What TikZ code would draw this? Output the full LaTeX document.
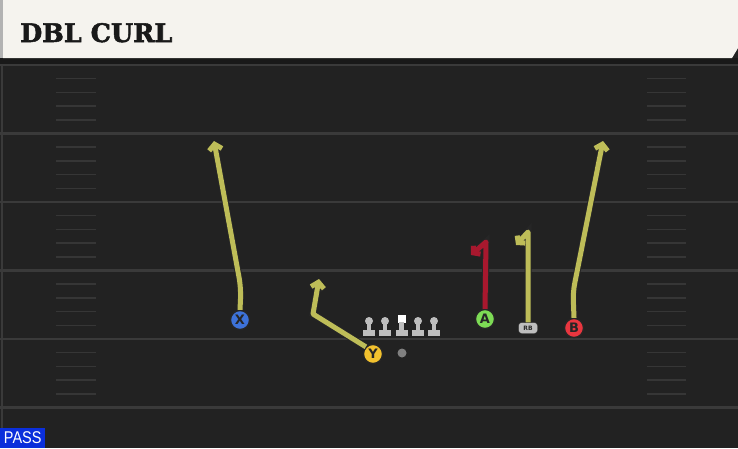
\documentclass[tikz,border=0pt]{standalone}
\usepackage{fontspec}
\setmainfont{DejaVu Sans}
\newfontfamily\titlefont[FakeBold=2]{DejaVu Serif}
\newfontfamily\passfont[FakeStretch=0.85]{Liberation Sans}
\usetikzlibrary{arrows.meta}

\definecolor{fieldbg}{HTML}{222222}
\definecolor{yardline}{HTML}{3A3A3A}
\definecolor{headbg}{HTML}{F5F3EE}
\definecolor{routeyel}{HTML}{BEBD58}
\definecolor{routered}{HTML}{A8182E}
\definecolor{plrblue}{HTML}{3D72D9}
\definecolor{plryel}{HTML}{F2C12E}
\definecolor{plrgreen}{HTML}{7DDB55}
\definecolor{plrred}{HTML}{E8363F}
\definecolor{olgray}{HTML}{BEBEBE}
\definecolor{passblue}{HTML}{0B2FDB}

\tikzset{
  player/.style={circle, draw=black!85, line width=1.3pt, minimum size=19pt,
    inner sep=0pt, text=black!85, font=\bfseries\fontsize{13}{13}\selectfont},
  route/.style={line width=5pt, draw=#1, line join=round,
    -{Straight Barb[length=5.5pt,width=13pt]},
    preaction={draw=black!85, line width=7pt}},
  route/.default=routeyel,
  curl/.style={-{Straight Barb[length=4.5pt,width=11pt]}}
}

\begin{document}
\begin{tikzpicture}[x=1pt, y=-1pt]
    \useasboundingbox (0,0) rectangle (738,448);
    \fill[fieldbg] (0,0) rectangle (738,448);

    % Field border and yard lines
    \draw[yardline, line width=1.5pt] (2,64) -- (2,428);
    \foreach \y in {65,133.5,202,270.5,339,407.5}
        \draw[yardline, line width=2.2pt] (0,\y) -- (738,\y);

    % Hash marks
    \foreach \y in {65,133.5,202,270.5,339}
        \foreach \k in {1,...,4} {
            \draw[yardline!85!fieldbg, line width=1.5pt] (56,\y+\k*13.7) -- (96,\y+\k*13.7);
            \draw[yardline!85!fieldbg, line width=1.5pt] (647,\y+\k*13.7) -- (686,\y+\k*13.7);
        }

    % Header
    \fill[black!90] (0,58) rectangle (738,64);
    \fill[headbg] (3,0) -- (738,0) -- (738,48) -- (732,58) -- (3,58) -- cycle;
    \fill[black!30] (0,0) rectangle (3,58);
    \node[anchor=base west, inner sep=0pt, text=black!90,
          font=\titlefont\bfseries\fontsize{25.5}{25.5}\selectfont] (title) at (20,42) {DBL CURL};

    % Offensive line
    \foreach \x in {369,385,418,434} {
        \fill[olgray] (\x,321) circle (4);
        \fill[olgray] (\x-2.4,321) rectangle (\x+2.4,331);
        \fill[olgray] (\x-5.8,330) rectangle (\x+5.8,335.5);
    }
    \fill[white] (397.5,314.5) rectangle (405.5,322.5);
    \fill[olgray] (399.3,322) rectangle (404.1,331);
    \fill[olgray] (395.9,330) rectangle (407.5,335.5);

    % Ball
    \fill[gray] (402,353) circle (4.5);

    % Route ends
    \coordinate (Xend) at (214,141);
    \coordinate (Yend) at (319,279);
    \coordinate (Aend) at (471,255);
    \coordinate (RBend) at (516,245);
    \coordinate (Bend) at (603,141);

    % Players
    \node[player, fill=plrblue] (X) at (240,320) {X};
    \node[player, fill=plryel] (Y) at (373,354) {Y};
    \node[player, fill=plrgreen] (A) at (485,319) {A};
    \node[player, fill=plrred] (B) at (574,328) {B};
    \node[draw=black!85, fill=olgray, rounded corners=3pt, minimum width=19pt,
          minimum height=11pt, inner sep=0pt, text=black!85,
          font=\bfseries\fontsize{6}{6}\selectfont] (RB) at (528,328) {RB};

    % Routes
    \draw[route, rounded corners=10pt] (X.north) -- (241,288) -- (Xend);
    \draw[route] (Y.north west) -- (313,314) -- (Yend);
    \draw[route=routered, curl] (A.north) -- (486,242) -- (Aend);
    \draw[route, curl] (RB.north) -- (528,232) -- (RBend);
    \draw[route, rounded corners=8pt] (B.north) -- (573,292) -- (Bend);

    % Play type
    \node[fill=passblue, text=white, anchor=south west, minimum width=45pt,
          minimum height=20pt, inner sep=0pt,
          font=\passfont\fontsize{17}{17}\selectfont] (pass) at (0,448) {PASS};
\end{tikzpicture}
\end{document}
